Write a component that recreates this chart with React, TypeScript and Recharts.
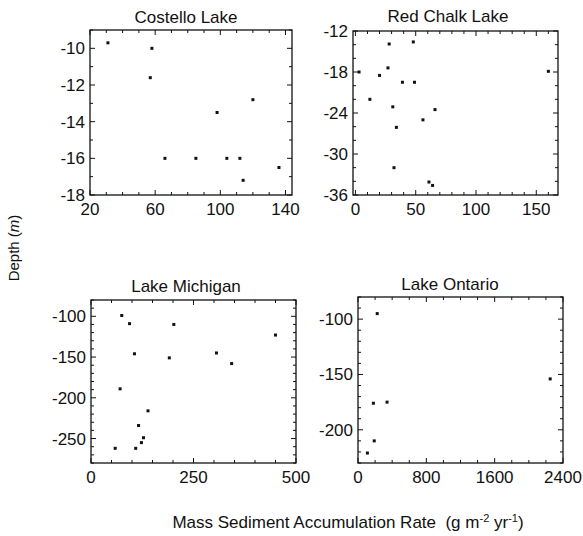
import { Scatter, ScatterChart, XAxis, YAxis } from "recharts";

// values: rate in g m-2 yr-1, depth in m
const costelloRate = [31, 58, 57, 66, 85, 98, 104, 112, 120, 114, 136];
const costelloDepth = [-9.7, -10.0, -11.6, -16.0, -16.0, -13.5, -16.0, -16.0, -12.8, -17.2, -16.5];

const redChalkRate = [3, 28, 48, 27, 20, 39, 49, 12, 31, 66, 56, 34, 32, 61, 64, 160];
const redChalkDepth = [-18, -13.9, -13.6, -17.4, -18.5, -19.5, -19.5, -22, -23.1, -23.5, -25, -26.1, -32, -34.1, -34.6, -17.9];

const michiganRate = [75, 94, 202, 450, 106, 191, 306, 343, 71, 139, 116, 128, 123, 59, 109];
const michiganDepth = [-99, -109, -110, -123, -146, -151, -145, -158, -189, -216, -234, -249, -255, -262, -262];

const ontarioRate = [225, 2250, 180, 340, 190, 110];
const ontarioDepth = [-95, -154, -176, -175, -210, -221];

const costelloXTicks = [20, 60, 100, 140];
const costelloYTicks = [-18, -16, -14, -12, -10];
const redChalkXTicks = [0, 50, 100, 150];
const redChalkYTicks = [-36, -30, -24, -18, -12];
const michiganXTicks = [0, 250, 500];
const michiganYTicks = [-250, -200, -150, -100];
const ontarioXTicks = [0, 800, 1600, 2400];
const ontarioYTicks = [-200, -150, -100];

const FONT = "'Liberation Sans', Arial, Helvetica, sans-serif";
const INK = "#111";
const PAD_L = 60;
const PAD_T = 14;
const PAD_R = 26;
const PAD_B = 30;

interface PanelConfig {
  title: string;
  box: [number, number, number, number];
  rate: number[];
  depth: number[];
  xDomain: [number, number];
  yDomain: [number, number];
  xMajor: number[];
  yMajor: number[];
  xMinor: number;
  yMinor: number;
}

const panels: PanelConfig[] = [
  {
    title: "Costello Lake",
    box: [90, 30, 292, 195],
    rate: costelloRate,
    depth: costelloDepth,
    xDomain: [20, 144],
    yDomain: [-18, -9],
    xMajor: costelloXTicks,
    yMajor: costelloYTicks,
    xMinor: 10,
    yMinor: 1
  },
  {
    title: "Red Chalk Lake",
    box: [353, 31, 558, 195],
    rate: redChalkRate,
    depth: redChalkDepth,
    xDomain: [-2, 168],
    yDomain: [-36, -12],
    xMajor: redChalkXTicks,
    yMajor: redChalkYTicks,
    xMinor: 10,
    yMinor: 2
  },
  {
    title: "Lake Michigan",
    box: [91, 300, 296, 463],
    rate: michiganRate,
    depth: michiganDepth,
    xDomain: [0, 500],
    yDomain: [-280, -80],
    xMajor: michiganXTicks,
    yMajor: michiganYTicks,
    xMinor: 50,
    yMinor: 10
  },
  {
    title: "Lake Ontario",
    box: [358, 297, 563, 463],
    rate: ontarioRate,
    depth: ontarioDepth,
    xDomain: [0, 2400],
    yDomain: [-230, -80],
    xMajor: ontarioXTicks,
    yMajor: ontarioYTicks,
    xMinor: 200,
    yMinor: 10
  }
];

function minorTicks(domain: [number, number], step: number): number[] {
  const out: number[] = [];
  const start = Math.ceil(domain[0] / step) * step;
  for (let v = start; v <= domain[1] + 1e-9; v += step) {
    out.push(Math.round(v * 1000) / 1000);
  }
  return out;
}

function Panel({ cfg }: { cfg: PanelConfig }) {
  const w = cfg.box[2] - cfg.box[0];
  const h = cfg.box[3] - cfg.box[1];
  const data = cfg.rate.map((r, i) => ({ rate: r, depth: cfg.depth[i] }));
  const left = PAD_L;
  const right = PAD_L + w;
  const top = PAD_T;
  const bottom = PAD_T + h;
  const xTicks = minorTicks(cfg.xDomain, cfg.xMinor);
  const yTicks = minorTicks(cfg.yDomain, cfg.yMinor);

  const xTick = (p: any) => {
    const v = p.payload.value;
    const major = cfg.xMajor.includes(v);
    const len = major ? 5 : 3;
    return (
      <g>
        <path d={`M${p.x},${bottom}V${bottom - len}M${p.x},${top}V${top + len}`} stroke={INK} strokeWidth={1} fill="none" />
        {major ? (
          <text x={p.x} y={bottom + 20} textAnchor="middle" fill={INK} fontSize={17} fontFamily={FONT}>
            {v}
          </text>
        ) : null}
      </g>
    );
  };

  const yTick = (p: any) => {
    const v = p.payload.value;
    const major = cfg.yMajor.includes(v);
    const len = major ? 5 : 3;
    return (
      <g>
        <path d={`M${left},${p.y}H${left + len}M${right},${p.y}H${right - len}`} stroke={INK} strokeWidth={1} fill="none" />
        {major ? (
          <text x={left - 5} y={p.y + 6} textAnchor="end" fill={INK} fontSize={17} fontFamily={FONT}>
            {v}
          </text>
        ) : null}
      </g>
    );
  };

  return (
    <div style={{ position: "absolute", left: cfg.box[0] - PAD_L, top: cfg.box[1] - PAD_T }}>
      <ScatterChart
        width={w + PAD_L + PAD_R}
        height={h + PAD_T + PAD_B}
        margin={{ top: PAD_T, right: PAD_R, bottom: 0, left: 0 }}
      >
        <XAxis
          type="number"
          dataKey="rate"
          domain={cfg.xDomain}
          ticks={xTicks}
          interval={0}
          height={PAD_B}
          axisLine={false}
          tickLine={false}
          tick={xTick}
          allowDataOverflow
        />
        <YAxis
          type="number"
          dataKey="depth"
          domain={cfg.yDomain}
          ticks={yTicks}
          interval={0}
          width={PAD_L}
          axisLine={false}
          tickLine={false}
          tick={yTick}
          allowDataOverflow
        />
        <Scatter
          data={data}
          isAnimationActive={false}
          shape={(s: any) => <rect x={s.cx - 1.5} y={s.cy - 1.5} width={3} height={3} fill={INK} />}
        />
      </ScatterChart>
    </div>
  );
}

export default function App() {
  return (
    <div style={{ position: "absolute", left: 0, top: 0, width: 583, height: 536, background: "#fff" }}>
      {panels.map((p) => (
        <Panel key={p.title} cfg={p} />
      ))}
      <svg width={583} height={536} style={{ position: "absolute", left: 0, top: 0, pointerEvents: "none" }}>
        {/* panel frames, on the same boxes the charts' plot areas use */}
        {panels.map((p) => (
          <rect
            key={p.title}
            x={p.box[0]}
            y={p.box[1]}
            width={p.box[2] - p.box[0]}
            height={p.box[3] - p.box[1]}
            fill="none"
            stroke={INK}
            strokeWidth={1.3}
          />
        ))}
        <g fontFamily={FONT} fill={INK}>
          <text x={186} y={23} textAnchor="middle" fontSize={17}>Costello Lake</text>
          <text x={448} y={22} textAnchor="middle" fontSize={17}>Red Chalk Lake</text>
          <text x={186} y={292} textAnchor="middle" fontSize={17}>Lake Michigan</text>
          <text x={450} y={290} textAnchor="middle" fontSize={17}>Lake Ontario</text>
          <text transform="translate(19 248) rotate(-90)" textAnchor="middle" fontSize={15}>
            Depth (<tspan fontStyle="italic">m</tspan>)
          </text>
          <text x={348} y={528} textAnchor="middle" fontSize={17} style={{ whiteSpace: "pre" }}>
            {"Mass Sediment Accumulation Rate  (g m"}
            <tspan dy={-6} fontSize={11}>-2</tspan>
            <tspan dy={6}> yr</tspan>
            <tspan dy={-6} fontSize={11}>-1</tspan>
            <tspan dy={6}>)</tspan>
          </text>
        </g>
      </svg>
    </div>
  );
}
